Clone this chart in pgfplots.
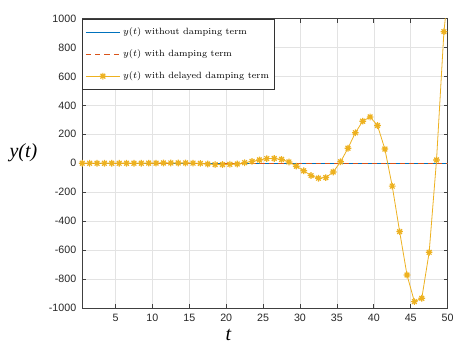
\documentclass[border=0pt]{standalone}
\usepackage{fontspec}
\usepackage{pgfplots}
\pgfplotsset{compat=1.18}
\newfontfamily\tickfont{Liberation Sans}
\newfontfamily\tnr{Liberation Serif}

\definecolor{matblue}{rgb}{0,0.447,0.741}
\definecolor{matorange}{rgb}{0.85,0.325,0.098}
\definecolor{matyellow}{rgb}{0.929,0.694,0.125}

% MATLAB-style eight-armed asterisk
\pgfdeclareplotmark{mstar}{%
  \pgfpathmoveto{\pgfqpoint{-\pgfplotmarksize}{0pt}}\pgfpathlineto{\pgfqpoint{\pgfplotmarksize}{0pt}}%
  \pgfpathmoveto{\pgfqpoint{0pt}{-\pgfplotmarksize}}\pgfpathlineto{\pgfqpoint{0pt}{\pgfplotmarksize}}%
  \pgfpathmoveto{\pgfqpoint{-0.707\pgfplotmarksize}{-0.707\pgfplotmarksize}}\pgfpathlineto{\pgfqpoint{0.707\pgfplotmarksize}{0.707\pgfplotmarksize}}%
  \pgfpathmoveto{\pgfqpoint{-0.707\pgfplotmarksize}{0.707\pgfplotmarksize}}\pgfpathlineto{\pgfqpoint{0.707\pgfplotmarksize}{-0.707\pgfplotmarksize}}%
  \pgfusepathqstroke}

% delayed damping solution
\pgfplotstableread{
t y
0.5 0
1.5 0
2.5 0
3.5 0
4.5 0
5.5 0
6.5 0
7.5 0
8.5 0
9.5 1
10.5 1
11.5 2
12.5 2
13.5 2
14.5 2
15.5 1
16.5 -1
17.5 -5
18.5 -9
19.5 -9
20.5 -7
21.5 -5
22.5 4
23.5 13
24.5 23
25.5 32
26.5 33
27.5 27
28.5 9
29.5 -20
30.5 -52
31.5 -85
32.5 -103
33.5 -99
34.5 -60
35.5 10
36.5 104
37.5 211
38.5 291
39.5 320
40.5 261
41.5 98
42.5 -158
43.5 -472
44.5 -772
45.5 -956
46.5 -933
47.5 -615
48.5 23
49.5 909
50.5 1400
}\delayed

\begin{document}
\begin{tikzpicture}[x=1pt,y=1pt]
\useasboundingbox (-61.7,-29.25) rectangle (293.8,231);
\begin{axis}[
    scale only axis,
    width=274pt, height=217.1pt,
    at={(0,0)}, anchor=south west,
    xmin=0.5, xmax=50,
    ymin=-1000, ymax=1000,
    xtick={5,10,...,50},
    ytick={-1000,-800,...,1000},
    grid=major,
    grid style={gray!22, line width=0.4pt},
    axis line style={black!75, line width=0.6pt},
    tick style={black!75, line width=0.5pt},
    major tick length=3pt,
    tick align=inside,
    /pgf/number format/assume math mode=true,
    /pgf/number format/1000 sep={},
    tick label style={font=\tickfont\fontsize{8}{9}\selectfont, text=black!85},
    xticklabel style={yshift=-1pt},
    yticklabel style={xshift=-1pt},
    xlabel={\tnr\fontsize{15}{18}\selectfont\itshape t},
    ylabel={\tnr\fontsize{15}{18}\selectfont\itshape y(t)},
    xlabel style={at={(axis description cs:0.40,-0.093)}, anchor=center},
    ylabel style={at={(axis description cs:-0.161,0.535)}, anchor=center, rotate=-90},
    legend style={at={(0,1)}, anchor=north west,
        font=\fontsize{6.8}{8.2}\selectfont,
        draw=black!80, line width=0.5pt, row sep=5.8pt,
        inner xsep=2pt, inner ysep=4.5pt, fill=white},
    legend cell align=left,
    legend image code/.code={\draw[mark repeat=2,mark phase=2,#1] plot coordinates {(0cm,0cm) (0.45cm,0cm) (0.9cm,0cm)};},
]
\addplot[color=matblue, line width=0.8pt] coordinates {(0.5,0) (50,0)};
\addlegendentry{$y(t)$ without damping term}
\addplot[color=matorange, line width=0.8pt, dash pattern=on 4pt off 3pt] coordinates {(0.5,0) (50,0)};
\addlegendentry{$y(t)$ with damping term}
\addplot[color=matyellow, line width=0.6pt, mark=mstar, mark size=2.5pt,
    mark options={line width=0.9pt, solid}] table[x=t, y=y] {\delayed};
\addlegendentry{$y(t)$ with delayed damping term}
\end{axis}
\end{tikzpicture}
\end{document}
